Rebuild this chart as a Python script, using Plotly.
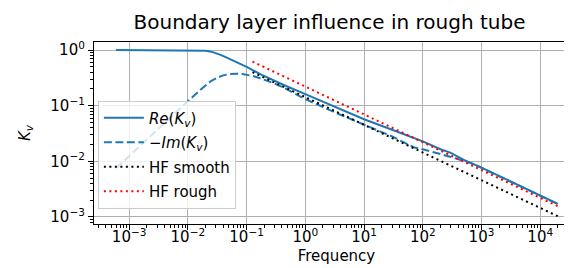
import plotly.graph_objects as go

# Frequencies and values
freq = [6e-4, 1e-3, 3e-3, 1e-2, 0.015, 0.02, 0.025, 0.03, 0.036, 0.045, 0.06, 0.07, 0.1, 0.17, 0.3,
        0.43, 1, 3, 10, 30, 100, 200, 300, 500, 1000, 3000, 1e4, 2e4]
re_kv = [1.0, 1.0, 1.0, 0.997, 0.99, 0.97, 0.935, 0.88, 0.82, 0.74, 0.65, 0.6, 0.5, 0.37, 0.28,
         0.235, 0.161, 0.098, 0.057, 0.037, 0.0228, 0.0165, 0.0142, 0.0106, 0.0077, 0.00444, 0.00241, 0.00172]

freq_im = [6e-4, 1e-3, 3e-3, 1e-2, 0.017, 0.024, 0.032, 0.04, 0.05, 0.068, 0.085, 0.1, 0.13, 0.17, 0.3,
           0.43, 1, 3, 10, 30, 72, 100, 300, 740, 1000, 3000, 1e4, 2e4]
neg_im_kv = [0.0075, 0.0125, 0.037, 0.12, 0.2, 0.27, 0.32, 0.35, 0.368, 0.376, 0.37, 0.36, 0.34, 0.31, 0.25,
             0.21, 0.131, 0.078, 0.046, 0.028, 0.0177, 0.0165, 0.012, 0.0089, 0.0076, 0.0044, 0.00238, 0.0017]

freq_hf = [0.126, 1, 10, 100, 1000, 2e4]
hf_smooth = [0.40, 0.142, 0.045, 0.0142, 0.0045, 0.00103]
hf_rough = [0.62, 0.22, 0.0697, 0.022, 0.00697, 0.00156]

x_tickvals = [1e-3, 1e-2, 1e-1, 1e0, 1e1, 1e2, 1e3, 1e4]
x_ticktext = ["10<sup>−3</sup>", "10<sup>−2</sup>", "10<sup>−1</sup>", "10<sup>0</sup>",
              "10<sup>1</sup>", "10<sup>2</sup>", "10<sup>3</sup>", "10<sup>4</sup>"]
y_tickvals = [1e-3, 1e-2, 1e-1, 1e0]
y_ticktext = ["10<sup>−3</sup>", "10<sup>−2</sup>", "10<sup>−1</sup>", "10<sup>0</sup>"]

blue = "#1f77b4"
font = "DejaVu Sans"

fig = go.Figure()
fig.add_trace(go.Scatter(x=freq, y=re_kv, mode="lines", name="<i>Re</i>(<i>K<sub>v</sub></i>)",
                         legendgroup="a", line=dict(color=blue, width=2)))
fig.add_trace(go.Scatter(x=freq_im, y=neg_im_kv, mode="lines", name="−<i>Im</i>(<i>K<sub>v</sub></i>)",
                         legendgroup="b", line=dict(color=blue, width=2, dash="8px,3.5px")))
fig.add_trace(go.Scatter(x=freq_hf, y=hf_smooth, mode="lines", name="HF smooth",
                         legendgroup="c", line=dict(color="black", width=2, dash="2px,3.5px")))
fig.add_trace(go.Scatter(x=freq_hf, y=hf_rough, mode="lines", name="HF rough",
                         legendgroup="d", line=dict(color="#ff0000", width=2, dash="2px,3.5px")))

axis_common = dict(
    type="log", showline=True, mirror=True, linecolor="black", linewidth=1.2,
    ticks="outside", ticklen=5, tickcolor="black", tickwidth=1.2,
    showgrid=True, gridcolor="#b0b0b0", gridwidth=1.2, zeroline=False,
    tickfont=dict(family=font, size=15, color="black"),
    minor=dict(ticks="outside", ticklen=3, tickcolor="black", tickwidth=0.8,
               showgrid=False, dtick="D1"),
)

fig.update_xaxes(**axis_common, range=[-3.598, 4.66], tickvals=x_tickvals, ticktext=x_ticktext,
                 ticklabelstandoff=-6,
                 title=dict(text="Frequency", font=dict(family=font, size=15, color="black"), standoff=5))
fig.update_yaxes(**axis_common, range=[-3.126, 0.144], tickvals=y_tickvals, ticktext=y_ticktext,
                 title=dict(text="<i>K<sub>v</sub></i>", font=dict(family=font, size=15, color="black"), standoff=16))

fig.update_layout(
    width=572, height=268,
    margin=dict(l=86, r=1, t=34, b=52),
    paper_bgcolor="white", plot_bgcolor="white",
    title=dict(text="Boundary layer influence in rough tube", x=0.4856, xanchor="center",
               xref="paper", y=1, yanchor="top", yref="container", pad=dict(t=7),
               font=dict(family=font, size=20, color="black")),
    legend=dict(x=0.008, y=0.678, xanchor="left", yanchor="top", itemwidth=40,
                bgcolor="rgba(255,255,255,0.8)", bordercolor="#cccccc", borderwidth=1,
                font=dict(family=font, size=15, color="black"), tracegroupgap=2),
    showlegend=True,
)

fig.write_html("out.html")
